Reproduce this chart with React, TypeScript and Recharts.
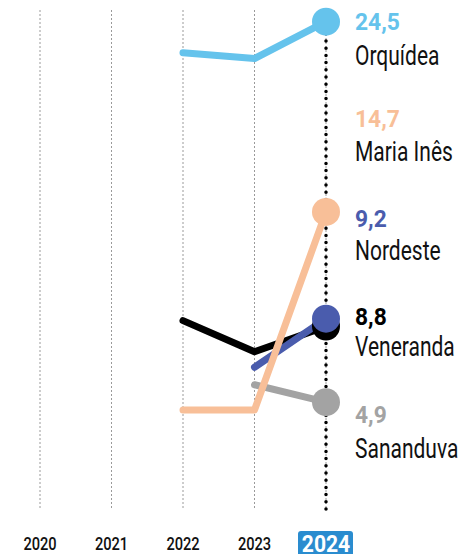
import { CartesianGrid, Customized, Line, LineChart, ReferenceLine, XAxis, YAxis } from "recharts";

const YEARS = ["2020", "2021", "2022", "2023", "2024"];
const ORQUIDEA = [null, null, 22.9, 22.6, 24.5];
const VENERANDA = [null, null, 9.1, 7.5, 8.8];
const NORDESTE = [null, null, null, 6.7, 9.2];
const SANANDUVA = [null, null, null, 5.8, 4.9];
const MARIA_INES = [null, null, 4.5, 4.5, 14.7];

// draw order: last one on top; valueY / nameY = baselines of the stacked labels on the right
const SERIES = [
  { key: "orquidea", name: "Orquídea", color: "#65c3ec", values: ORQUIDEA, valueY: 30, nameY: 65 },
  { key: "veneranda", name: "Veneranda", color: "#000000", values: VENERANDA, valueY: 325, nameY: 356 },
  { key: "nordeste", name: "Nordeste", color: "#4a5cad", values: NORDESTE, valueY: 227, nameY: 260 },
  { key: "sananduva", name: "Sananduva", color: "#a3a3a3", values: SANANDUVA, valueY: 423, nameY: 458 },
  { key: "mariaInes", name: "Maria Inês", color: "#f8bf98", values: MARIA_INES, valueY: 127, nameY: 161 },
];

const FONT = "Roboto, 'Liberation Sans', sans-serif";
const fmt = (v: number) => v.toFixed(1).replace(".", ",");

const data = YEARS.map((year, i) => {
  const row: Record<string, string | number | null> = { year };
  SERIES.forEach((s) => (row[s.key] = s.values[i]));
  return row;
});

function YearTick(props: any) {
  const { x, payload } = props;
  const last = payload.value === YEARS[YEARS.length - 1];
  if (last) {
    return (
      <g>
        <path d={`M${x - 28},554 V534 a3,3 0 0 1 3,-3 H${x + 24} a3,3 0 0 1 3,3 V554 Z`} fill="#2a8ccf" />
        <text
          transform={`translate(${x},552) scale(0.88,1)`}
          textAnchor="middle"
          fontFamily={FONT}
          fontWeight={700}
          fontSize={24}
          fill="#fff"
        >
          {payload.value}
        </text>
      </g>
    );
  }
  return (
    <text
      transform={`translate(${x},550) scale(0.77,1)`}
      textAnchor="middle"
      fontFamily={FONT}
      fontWeight={500}
      fontSize={19}
      fill="#111"
    >
      {payload.value}
    </text>
  );
}

function EndLabels() {
  return (
    <g fontFamily={FONT}>
      {SERIES.map((s) => {
        const last = s.values[s.values.length - 1] as number;
        return (
          <g key={s.key}>
            <text transform={`translate(355,${s.valueY}) scale(0.95,1)`} fontSize={24} fontWeight={700} fill={s.color}>
              {fmt(last)}
            </text>
            <text transform={`translate(355,${s.nameY}) scale(0.75,1)`} fontSize={28} fill="#111">
              {s.name}
            </text>
          </g>
        );
      })}
    </g>
  );
}

export default function App() {
  return (
    <div style={{ position: "absolute", left: 0, top: 0, width: 463, height: 554, background: "#fff" }}>
      <LineChart width={463} height={554} data={data} margin={{ top: 10, right: 137, left: 40, bottom: 0 }}>
        <CartesianGrid horizontal={false} strokeDasharray="2 2" stroke="#9a9a9a" strokeWidth={1} />
        <XAxis dataKey="year" height={45} axisLine={false} tickLine={false} tick={<YearTick />} interval={0} />
        <YAxis hide domain={[-0.6, 25.1]} />
        <ReferenceLine
          x="2024"
          shape={(p: any) => (
            <line
              x1={p.x1}
              y1={p.y1}
              x2={p.x2}
              y2={p.y2 + 15}
              stroke="#000"
              strokeWidth={3.5}
              strokeLinecap="round"
              strokeDasharray="0 7.2"
            />
          )}
        />
        {SERIES.map((s) => (
          <Line
            key={s.key}
            dataKey={s.key}
            stroke={s.color}
            strokeWidth={7}
            strokeLinecap="round"
            strokeLinejoin="round"
            isAnimationActive={false}
            dot={(p: any) =>
              p.index === YEARS.length - 1 && p.value != null ? (
                <circle key={p.key} cx={p.cx} cy={p.cy} r={14} fill={s.color} />
              ) : (
                <g key={p.key} />
              )
            }
            activeDot={false}
          />
        ))}
        <Customized component={EndLabels} />
      </LineChart>
    </div>
  );
}
